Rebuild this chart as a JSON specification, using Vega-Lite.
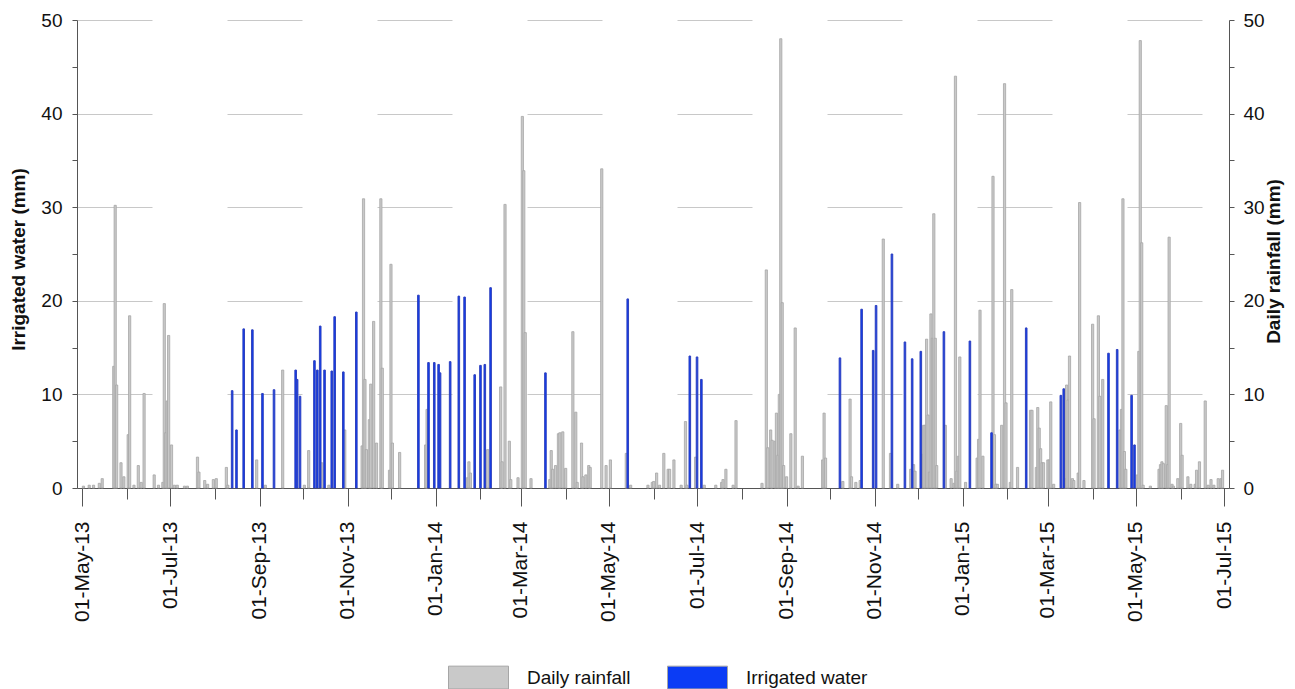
{
  "$schema": "https://vega.github.io/schema/vega-lite/v6.json",
  "width": 1152,
  "height": 468,
  "autosize": "none",
  "padding": {"left": 77, "top": 20, "right": 66, "bottom": 201},
  "background": "white",
  "config": {
    "font": "Liberation Sans",
    "view": {"stroke": null},
    "axis": {
      "domainColor": "#555555",
      "tickColor": "#555555",
      "labelColor": "#111111",
      "titleColor": "#111111",
      "labelFontSize": 19,
      "titleFontSize": 19,
      "titleFontWeight": "bold",
      "grid": false
    }
  },
  "datasets": {
    "rain": [
      {"date": "2013-05-02", "mm": 0.2}, {"date": "2013-05-06", "mm": 0.3}, {"date": "2013-05-09", "mm": 0.3},
      {"date": "2013-05-13", "mm": 0.5}, {"date": "2013-05-15", "mm": 1.0}, {"date": "2013-05-23", "mm": 13.0},
      {"date": "2013-05-24", "mm": 30.2}, {"date": "2013-05-25", "mm": 11.0}, {"date": "2013-05-28", "mm": 2.7},
      {"date": "2013-05-30", "mm": 1.2}, {"date": "2013-06-02", "mm": 5.7}, {"date": "2013-06-03", "mm": 18.4},
      {"date": "2013-06-06", "mm": 0.3}, {"date": "2013-06-09", "mm": 2.4}, {"date": "2013-06-11", "mm": 0.6},
      {"date": "2013-06-13", "mm": 10.1}, {"date": "2013-06-20", "mm": 1.4}, {"date": "2013-06-23", "mm": 0.3},
      {"date": "2013-06-26", "mm": 0.6}, {"date": "2013-06-27", "mm": 19.7}, {"date": "2013-06-28", "mm": 5.9},
      {"date": "2013-06-29", "mm": 9.3}, {"date": "2013-06-30", "mm": 16.3}, {"date": "2013-07-02", "mm": 4.6},
      {"date": "2013-07-04", "mm": 0.3}, {"date": "2013-07-06", "mm": 0.3}, {"date": "2013-07-11", "mm": 0.2},
      {"date": "2013-07-13", "mm": 0.2}, {"date": "2013-07-20", "mm": 3.3}, {"date": "2013-07-21", "mm": 1.7},
      {"date": "2013-07-25", "mm": 0.8}, {"date": "2013-07-27", "mm": 0.4}, {"date": "2013-07-31", "mm": 0.9},
      {"date": "2013-08-02", "mm": 1.0}, {"date": "2013-08-09", "mm": 2.2}, {"date": "2013-08-10", "mm": 0.3},
      {"date": "2013-08-30", "mm": 3.0}, {"date": "2013-09-05", "mm": 0.3}, {"date": "2013-09-17", "mm": 12.6},
      {"date": "2013-10-02", "mm": 0.3}, {"date": "2013-10-05", "mm": 4.0}, {"date": "2013-10-14", "mm": 2.7},
      {"date": "2013-10-19", "mm": 0.3}, {"date": "2013-10-30", "mm": 6.2}, {"date": "2013-11-11", "mm": 4.5},
      {"date": "2013-11-12", "mm": 30.9}, {"date": "2013-11-13", "mm": 11.6}, {"date": "2013-11-14", "mm": 4.1},
      {"date": "2013-11-16", "mm": 7.3}, {"date": "2013-11-17", "mm": 11.1}, {"date": "2013-11-19", "mm": 17.8},
      {"date": "2013-11-21", "mm": 4.8}, {"date": "2013-11-24", "mm": 30.9}, {"date": "2013-11-25", "mm": 12.8},
      {"date": "2013-11-30", "mm": 1.9}, {"date": "2013-12-01", "mm": 23.9}, {"date": "2013-12-02", "mm": 4.8},
      {"date": "2013-12-07", "mm": 3.8}, {"date": "2013-12-25", "mm": 4.6}, {"date": "2013-12-26", "mm": 8.4},
      {"date": "2014-01-23", "mm": 1.1}, {"date": "2014-01-24", "mm": 2.8}, {"date": "2014-01-25", "mm": 1.6},
      {"date": "2014-02-06", "mm": 4.1}, {"date": "2014-02-15", "mm": 10.8}, {"date": "2014-02-16", "mm": 2.8},
      {"date": "2014-02-18", "mm": 30.3}, {"date": "2014-02-21", "mm": 5.0}, {"date": "2014-02-22", "mm": 0.9},
      {"date": "2014-02-27", "mm": 1.1}, {"date": "2014-03-02", "mm": 39.7}, {"date": "2014-03-03", "mm": 33.9},
      {"date": "2014-03-04", "mm": 16.6}, {"date": "2014-03-08", "mm": 1.0}, {"date": "2014-03-21", "mm": 0.9},
      {"date": "2014-03-22", "mm": 4.0}, {"date": "2014-03-23", "mm": 2.0}, {"date": "2014-03-25", "mm": 2.4},
      {"date": "2014-03-27", "mm": 5.8}, {"date": "2014-03-28", "mm": 5.9}, {"date": "2014-03-30", "mm": 6.0},
      {"date": "2014-04-01", "mm": 2.1}, {"date": "2014-04-06", "mm": 16.7}, {"date": "2014-04-08", "mm": 8.1},
      {"date": "2014-04-09", "mm": 0.6}, {"date": "2014-04-12", "mm": 4.8}, {"date": "2014-04-13", "mm": 1.2},
      {"date": "2014-04-15", "mm": 1.4}, {"date": "2014-04-17", "mm": 2.4}, {"date": "2014-04-18", "mm": 2.2},
      {"date": "2014-04-26", "mm": 34.1}, {"date": "2014-04-29", "mm": 2.4}, {"date": "2014-05-02", "mm": 3.0},
      {"date": "2014-05-13", "mm": 3.7}, {"date": "2014-05-16", "mm": 0.3}, {"date": "2014-05-28", "mm": 0.3},
      {"date": "2014-05-31", "mm": 0.6}, {"date": "2014-06-01", "mm": 0.7}, {"date": "2014-06-03", "mm": 1.6},
      {"date": "2014-06-05", "mm": 0.3}, {"date": "2014-06-08", "mm": 3.7}, {"date": "2014-06-11", "mm": 2.0},
      {"date": "2014-06-12", "mm": 2.0}, {"date": "2014-06-15", "mm": 3.0}, {"date": "2014-06-20", "mm": 0.3},
      {"date": "2014-06-23", "mm": 7.1}, {"date": "2014-06-24", "mm": 0.3}, {"date": "2014-06-30", "mm": 3.3},
      {"date": "2014-07-06", "mm": 0.3}, {"date": "2014-07-14", "mm": 0.3}, {"date": "2014-07-18", "mm": 0.6},
      {"date": "2014-07-19", "mm": 0.9}, {"date": "2014-07-21", "mm": 2.0}, {"date": "2014-07-26", "mm": 0.3},
      {"date": "2014-07-28", "mm": 7.2}, {"date": "2014-08-15", "mm": 0.5}, {"date": "2014-08-18", "mm": 23.3},
      {"date": "2014-08-19", "mm": 4.3}, {"date": "2014-08-21", "mm": 6.2}, {"date": "2014-08-22", "mm": 5.1},
      {"date": "2014-08-24", "mm": 5.0}, {"date": "2014-08-25", "mm": 8.0}, {"date": "2014-08-26", "mm": 3.5},
      {"date": "2014-08-27", "mm": 10.0}, {"date": "2014-08-28", "mm": 48.0}, {"date": "2014-08-29", "mm": 19.8},
      {"date": "2014-08-30", "mm": 2.4}, {"date": "2014-09-01", "mm": 1.2}, {"date": "2014-09-04", "mm": 5.8},
      {"date": "2014-09-07", "mm": 17.1}, {"date": "2014-09-09", "mm": 0.2}, {"date": "2014-09-12", "mm": 3.4},
      {"date": "2014-09-26", "mm": 3.0}, {"date": "2014-09-27", "mm": 8.0}, {"date": "2014-09-28", "mm": 3.2},
      {"date": "2014-10-10", "mm": 0.7}, {"date": "2014-10-15", "mm": 9.5}, {"date": "2014-10-16", "mm": 1.2},
      {"date": "2014-10-19", "mm": 0.6}, {"date": "2014-10-22", "mm": 0.8}, {"date": "2014-11-07", "mm": 26.6},
      {"date": "2014-11-12", "mm": 3.7}, {"date": "2014-11-17", "mm": 0.4}, {"date": "2014-11-26", "mm": 2.0},
      {"date": "2014-11-28", "mm": 2.5}, {"date": "2014-11-29", "mm": 1.8}, {"date": "2014-12-04", "mm": 3.6},
      {"date": "2014-12-05", "mm": 6.7}, {"date": "2014-12-06", "mm": 6.7}, {"date": "2014-12-07", "mm": 15.9},
      {"date": "2014-12-08", "mm": 7.8}, {"date": "2014-12-09", "mm": 1.7}, {"date": "2014-12-10", "mm": 18.6},
      {"date": "2014-12-11", "mm": 16.0}, {"date": "2014-12-12", "mm": 29.3}, {"date": "2014-12-13", "mm": 16.0},
      {"date": "2014-12-14", "mm": 2.4}, {"date": "2014-12-20", "mm": 6.7}, {"date": "2014-12-24", "mm": 1.0},
      {"date": "2014-12-26", "mm": 0.5}, {"date": "2014-12-27", "mm": 44.0}, {"date": "2014-12-28", "mm": 1.8},
      {"date": "2014-12-29", "mm": 3.4}, {"date": "2014-12-30", "mm": 14.0}, {"date": "2015-01-03", "mm": 0.6},
      {"date": "2015-01-11", "mm": 3.2}, {"date": "2015-01-12", "mm": 5.2}, {"date": "2015-01-13", "mm": 19.0},
      {"date": "2015-01-15", "mm": 3.4}, {"date": "2015-01-22", "mm": 33.3}, {"date": "2015-01-23", "mm": 5.7},
      {"date": "2015-01-24", "mm": 0.4}, {"date": "2015-01-25", "mm": 0.4}, {"date": "2015-01-28", "mm": 6.7},
      {"date": "2015-01-30", "mm": 43.2}, {"date": "2015-01-31", "mm": 9.1}, {"date": "2015-02-03", "mm": 0.6},
      {"date": "2015-02-04", "mm": 21.2}, {"date": "2015-02-08", "mm": 2.2}, {"date": "2015-02-17", "mm": 8.3},
      {"date": "2015-02-18", "mm": 8.3}, {"date": "2015-02-21", "mm": 2.2}, {"date": "2015-02-22", "mm": 8.6},
      {"date": "2015-02-23", "mm": 6.4}, {"date": "2015-02-24", "mm": 4.2}, {"date": "2015-02-25", "mm": 2.7},
      {"date": "2015-02-26", "mm": 2.7}, {"date": "2015-03-01", "mm": 3.0}, {"date": "2015-03-02", "mm": 3.0},
      {"date": "2015-03-03", "mm": 9.2}, {"date": "2015-03-05", "mm": 0.4}, {"date": "2015-03-13", "mm": 1.0},
      {"date": "2015-03-14", "mm": 11.0}, {"date": "2015-03-15", "mm": 9.4}, {"date": "2015-03-16", "mm": 14.1},
      {"date": "2015-03-18", "mm": 1.0}, {"date": "2015-03-19", "mm": 0.8}, {"date": "2015-03-22", "mm": 1.6},
      {"date": "2015-03-23", "mm": 30.5}, {"date": "2015-03-26", "mm": 0.8}, {"date": "2015-04-01", "mm": 17.5},
      {"date": "2015-04-02", "mm": 7.4}, {"date": "2015-04-05", "mm": 18.4}, {"date": "2015-04-06", "mm": 9.8},
      {"date": "2015-04-08", "mm": 11.6}, {"date": "2015-04-20", "mm": 6.2}, {"date": "2015-04-21", "mm": 8.4},
      {"date": "2015-04-22", "mm": 30.9}, {"date": "2015-04-23", "mm": 3.9}, {"date": "2015-04-24", "mm": 2.0},
      {"date": "2015-05-02", "mm": 1.4}, {"date": "2015-05-03", "mm": 14.6}, {"date": "2015-05-04", "mm": 47.8},
      {"date": "2015-05-05", "mm": 26.2}, {"date": "2015-05-06", "mm": 0.3}, {"date": "2015-05-11", "mm": 0.2},
      {"date": "2015-05-17", "mm": 2.0}, {"date": "2015-05-18", "mm": 2.5}, {"date": "2015-05-19", "mm": 2.8},
      {"date": "2015-05-20", "mm": 2.6}, {"date": "2015-05-22", "mm": 8.8}, {"date": "2015-05-23", "mm": 2.5},
      {"date": "2015-05-24", "mm": 26.8}, {"date": "2015-05-26", "mm": 0.4}, {"date": "2015-05-27", "mm": 0.2},
      {"date": "2015-05-30", "mm": 1.0}, {"date": "2015-06-01", "mm": 6.9}, {"date": "2015-06-02", "mm": 3.5},
      {"date": "2015-06-06", "mm": 1.2}, {"date": "2015-06-08", "mm": 0.4}, {"date": "2015-06-11", "mm": 0.4},
      {"date": "2015-06-12", "mm": 1.9}, {"date": "2015-06-14", "mm": 2.8}, {"date": "2015-06-18", "mm": 9.3},
      {"date": "2015-06-20", "mm": 0.3}, {"date": "2015-06-22", "mm": 0.9}, {"date": "2015-06-24", "mm": 0.3},
      {"date": "2015-06-27", "mm": 1.0}, {"date": "2015-06-29", "mm": 1.0}, {"date": "2015-06-30", "mm": 1.9}
    ],
    "irr": [
      {"date": "2013-08-13", "mm": 10.4}, {"date": "2013-08-16", "mm": 6.2}, {"date": "2013-08-21", "mm": 17.0},
      {"date": "2013-08-27", "mm": 16.9}, {"date": "2013-09-03", "mm": 10.1}, {"date": "2013-09-11", "mm": 10.5},
      {"date": "2013-09-26", "mm": 12.6}, {"date": "2013-09-27", "mm": 11.6}, {"date": "2013-09-29", "mm": 9.8},
      {"date": "2013-10-09", "mm": 13.6}, {"date": "2013-10-11", "mm": 12.6}, {"date": "2013-10-13", "mm": 17.3},
      {"date": "2013-10-16", "mm": 12.6}, {"date": "2013-10-21", "mm": 12.5}, {"date": "2013-10-23", "mm": 18.3},
      {"date": "2013-10-29", "mm": 12.4}, {"date": "2013-11-07", "mm": 18.8}, {"date": "2013-12-20", "mm": 20.6},
      {"date": "2013-12-27", "mm": 13.4}, {"date": "2013-12-31", "mm": 13.4}, {"date": "2014-01-03", "mm": 13.2},
      {"date": "2014-01-04", "mm": 12.3}, {"date": "2014-01-11", "mm": 13.5}, {"date": "2014-01-17", "mm": 20.5},
      {"date": "2014-01-21", "mm": 20.4}, {"date": "2014-01-28", "mm": 12.1}, {"date": "2014-02-01", "mm": 13.1},
      {"date": "2014-02-04", "mm": 13.2}, {"date": "2014-02-08", "mm": 21.4}, {"date": "2014-03-18", "mm": 12.3},
      {"date": "2014-05-14", "mm": 20.2}, {"date": "2014-06-26", "mm": 14.1}, {"date": "2014-07-01", "mm": 14.0},
      {"date": "2014-07-04", "mm": 11.6}, {"date": "2014-10-08", "mm": 13.9}, {"date": "2014-10-23", "mm": 19.1},
      {"date": "2014-10-31", "mm": 14.7}, {"date": "2014-11-02", "mm": 19.5}, {"date": "2014-11-13", "mm": 25.0},
      {"date": "2014-11-22", "mm": 15.6}, {"date": "2014-11-27", "mm": 13.8}, {"date": "2014-12-03", "mm": 14.6},
      {"date": "2014-12-19", "mm": 16.7}, {"date": "2015-01-06", "mm": 15.7}, {"date": "2015-01-21", "mm": 5.9},
      {"date": "2015-02-14", "mm": 17.1}, {"date": "2015-03-10", "mm": 9.9}, {"date": "2015-03-12", "mm": 10.6},
      {"date": "2015-04-12", "mm": 14.4}, {"date": "2015-04-18", "mm": 14.8}, {"date": "2015-04-28", "mm": 9.9},
      {"date": "2015-04-30", "mm": 4.6}
    ]
  },
  "encoding": {
    "x": {
      "field": "date",
      "type": "temporal",
      "scale": {
        "type": "utc",
        "domain": [
          {"year": 2013, "month": 5, "date": 1, "utc": true},
          {"year": 2015, "month": 7, "date": 1, "utc": true}
        ]
      },
      "axis": {
        "title": null,
        "tickCount": {"interval": "month", "step": 1},
        "labelExpr": "utcmonth(datum.value) % 2 === 0 ? utcFormat(datum.value, '%d-%b-%y') : ''",
        "labelAngle": -90,
        "labelFontSize": 21,
        "labelOverlap": false,
        "labelFlush": false,
        "labelBound": false,
        "tickSize": {"condition": {"test": "utcmonth(datum.value) % 2 === 0", "value": 18}, "value": 11},
        "labelPadding": 15,
        "grid": false
      }
    }
  },
  "layer": [
    {
      "data": {"name": "rain"},
      "mark": {"type": "bar", "size": 2.2, "stroke": "#a6a6a6", "strokeWidth": 0.8},
      "encoding": {
        "y": {
          "field": "mm",
          "type": "quantitative",
          "stack": null,
          "scale": {"domain": [0, 50]},
          "axis": {
            "orient": "right",
            "title": "Daily rainfall (mm)",
            "values": [0, 5, 10, 15, 20, 25, 30, 35, 40, 45, 50],
            "labelExpr": "datum.value % 10 === 0 ? datum.label : ''",
            "tickSize": 5,
            "labelPadding": 9,
            "titleAngle": -90,
            "titleX": 44,
            "titleY": 241,
            "titleAlign": "center",
            "titleBaseline": "middle",
            "grid": false
          }
        },
        "color": {
          "datum": "Daily rainfall",
          "scale": {"domain": ["Daily rainfall", "Irrigated water"], "range": ["#c9c9c9", "#0b3cf5"]},
          "legend": {
            "title": null,
            "orient": "none",
            "legendX": 371,
            "legendY": 627,
            "direction": "horizontal",
            "symbolType": "M-1,-0.38H1V0.38H-1Z",
            "symbolSize": 3600,
            "symbolStrokeWidth": 1,
            "labelFontSize": 19,
            "labelColor": "#111111",
            "labelOffset": 18,
            "columnPadding": 34,
            "padding": 0,
            "encode": {
              "symbols": {
                "update": {
                  "stroke": {"signal": "datum.value === 'Daily rainfall' ? '#a8a8a8' : '#0b3cf5'"},
                  "strokeWidth": {"value": 1}
                }
              }
            }
          }
        }
      }
    },
    {
      "data": {"name": "irr"},
      "mark": {"type": "bar", "size": 1.6, "stroke": "#2f40bd", "strokeWidth": 1},
      "encoding": {
        "y": {
          "field": "mm",
          "type": "quantitative",
          "stack": null,
          "scale": {"domain": [0, 50]},
          "axis": {
            "orient": "left",
            "title": "Irrigated water (mm)",
            "values": [0, 5, 10, 15, 20, 25, 30, 35, 40, 45, 50],
            "labelExpr": "datum.value % 10 === 0 ? datum.label : ''",
            "tickSize": 5,
            "labelPadding": 10,
            "titleAngle": -90,
            "titleX": -59,
            "titleY": 239,
            "titleAlign": "center",
            "titleBaseline": "middle",
            "grid": true,
            "gridColor": "#c8c8c8",
            "gridDash": [75, 75],
            "gridOpacity": {"condition": {"test": "datum.value % 10 === 0 && datum.value > 0", "value": 1}, "value": 0}
          }
        },
        "color": {"datum": "Irrigated water"}
      }
    }
  ],
  "resolve": {"scale": {"y": "independent"}}
}
